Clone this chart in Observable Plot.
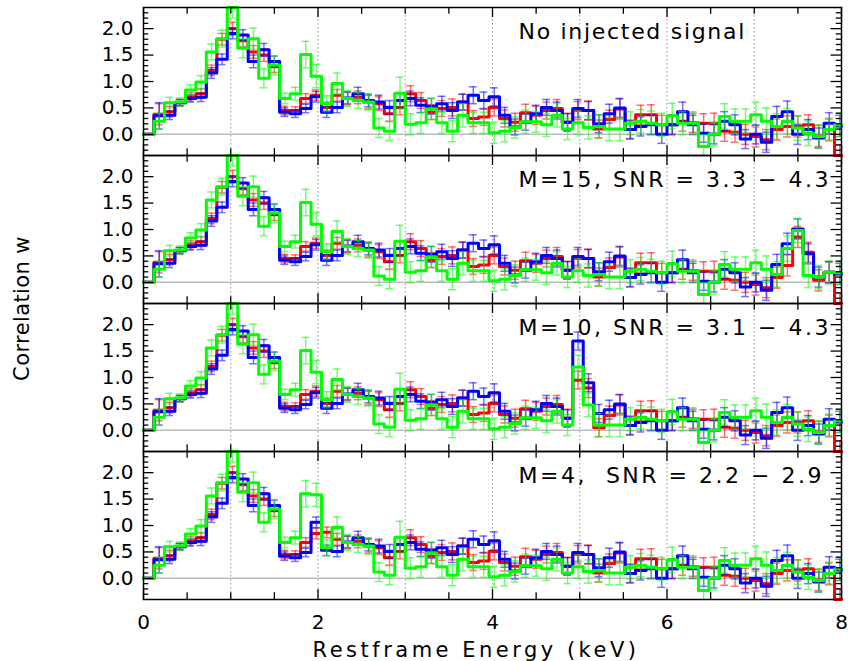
<!DOCTYPE html>
<html><head><meta charset="utf-8">
<script src="https://cdn.jsdelivr.net/npm/d3@7"></script>
<script src="https://cdn.jsdelivr.net/npm/@observablehq/plot@0.6"></script>
<style>
body{margin:0;background:#fff;}
#chart svg{display:block;}
</style>
</head><body><div id="chart"></div>
<script>
// ---- data ----
const panelKeys = ["p1", "p2", "p3", "p4"];
const panelLabels = ["No injected signal", "M=15, SNR = 3.3 \u2212 4.3", "M=10, SNR = 3.1 \u2212 4.3", "M=4,  SNR = 2.2 \u2212 2.9"];
const yTitle = "Correlation w";
const xTitle = "Restframe Energy (keV)";
const binWidth = 0.12; // keV per bin
const xDomain = [0, 8];
const yDomain = [-0.4, 2.4];
const xTickLabels = [0, 2, 4, 6, 8];
const xMinorTicks = [0.5, 1, 1.5, 2.5, 3, 3.5, 4.5, 5, 5.5, 6.5, 7, 7.5];
const gridLines = [1, 2, 3, 4, 5, 6, 7];
const yTickLabels = [0, 0.5, 1, 1.5, 2];
const yMinorTicks = [-0.3, -0.2, -0.1, 0.1, 0.2, 0.3, 0.4, 0.6, 0.7, 0.8, 0.9, 1.1, 1.2, 1.3, 1.4, 1.6, 1.7, 1.8, 1.9, 2.1, 2.2, 2.3];

// "No injected signal" correlation values per bin
const blueValues = [
  0, 0.35, 0.36, 0.60, 0.68, 0.70, 1.16, 1.42, 1.91, 1.88,
  1.38, 1.60, 1.38, 0.42, 0.39, 0.49, 0.71, 0.42, 0.51, 0.69,
  0.77, 0.64, 0.61, 0.51, 0.64, 0.68, 0.55, 0.53, 0.58, 0.45,
  0.61, 0.74, 0.64, 0.71, 0.36, 0.14, 0.23, 0.39, 0.51, 0.45,
  0.23, 0.49, 0.45, 0.20, 0.39, 0.50, 0.09, 0.15, 0.18, 0.00,
  0.18, 0.43, 0.18, 0.02, 0.00, 0.25, 0.18, -0.09, 0.00, -0.15,
  0.34, 0.43, 0.00, 0.09, -0.07, 0.21, 0.16];
const redValues = [
  0, 0.38, 0.43, 0.60, 0.71, 0.77, 1.21, 1.80, 2.00, 1.77,
  1.56, 1.50, 1.28, 0.45, 0.45, 0.68, 0.74, 0.51, 0.74, 0.68,
  0.70, 0.61, 0.58, 0.39, 0.51, 0.77, 0.64, 0.42, 0.49, 0.51,
  0.61, 0.30, 0.33, 0.51, 0.30, 0.23, 0.41, 0.36, 0.45, 0.49,
  0.23, 0.45, 0.45, 0.10, 0.28, 0.48, 0.09, 0.37, 0.37, 0.18,
  0.18, 0.25, 0.22, 0.21, 0.21, 0.06, 0.04, 0.00, -0.04, -0.10,
  0.09, 0.15, 0.15, 0.18, -0.03, 0.09, -0.40];
const greenValues = [
  0, 0.25, 0.60, 0.61, 0.84, 0.99, 1.56, 1.81, 2.40, 1.63,
  1.81, 1.06, 1.31, 0.68, 0.77, 1.51, 1.10, 0.58, 0.96, 0.68,
  0.64, 0.61, 0.12, 0.06, 0.78, 0.19, 0.22, 0.48, 0.22, 0.06,
  0.36, 0.22, 0.22, 0.03, 0.06, 0.13, 0.24, 0.24, 0.18, 0.36,
  0.10, 0.22, 0.13, 0.15, 0.10, 0.10, 0.21, 0.25, 0.21, 0.18,
  0.35, 0.21, 0.21, -0.23, 0.00, 0.34, 0.25, 0.25, 0.37, 0.25,
  0.15, 0.25, 0.12, 0.02, -0.04, 0.09, 0.18];

// 1-sigma errors per bin
const blueErrors = [
  0, 0.25, 0.08, 0.06, 0.07, 0.08, 0.10, 0.10, 0.10, 0.10,
  0.12, 0.12, 0.10, 0.08, 0.07, 0.08, 0.10, 0.10, 0.10, 0.11,
  0.12, 0.12, 0.13, 0.13, 0.14, 0.14, 0.14, 0.15, 0.14, 0.15,
  0.15, 0.16, 0.16, 0.17, 0.15, 0.15, 0.15, 0.16, 0.15, 0.16,
  0.16, 0.17, 0.17, 0.17, 0.18, 0.18, 0.17, 0.18, 0.18, 0.17,
  0.18, 0.18, 0.18, 0.17, 0.18, 0.18, 0.19, 0.18, 0.18, 0.19,
  0.19, 0.20, 0.19, 0.19, 0.19, 0.20, 0.20];
const redErrors = [
  0, 0.20, 0.10, 0.06, 0.08, 0.09, 0.10, 0.11, 0.12, 0.11,
  0.12, 0.12, 0.11, 0.08, 0.07, 0.09, 0.10, 0.10, 0.11, 0.12,
  0.12, 0.13, 0.13, 0.14, 0.14, 0.15, 0.15, 0.14, 0.15, 0.16,
  0.15, 0.15, 0.16, 0.16, 0.16, 0.17, 0.16, 0.17, 0.16, 0.17,
  0.17, 0.17, 0.18, 0.17, 0.18, 0.19, 0.18, 0.18, 0.19, 0.18,
  0.19, 0.19, 0.18, 0.18, 0.19, 0.19, 0.19, 0.19, 0.20, 0.19,
  0.20, 0.20, 0.20, 0.19, 0.20, 0.20, 0.20];
const greenErrors = [
  0, 0.15, 0.10, 0.08, 0.10, 0.12, 0.15, 0.16, 0.20, 0.18,
  0.20, 0.18, 0.18, 0.10, 0.12, 0.25, 0.22, 0.15, 0.20, 0.15,
  0.15, 0.15, 0.18, 0.18, 0.30, 0.20, 0.20, 0.20, 0.20, 0.20,
  0.22, 0.20, 0.20, 0.20, 0.20, 0.20, 0.22, 0.20, 0.22, 0.22,
  0.20, 0.22, 0.22, 0.22, 0.22, 0.22, 0.22, 0.22, 0.23, 0.22,
  0.24, 0.22, 0.22, 0.22, 0.22, 0.24, 0.23, 0.23, 0.24, 0.25,
  0.24, 0.24, 0.23, 0.23, 0.22, 0.22, 0.22];

// injected-signal bins (bin index -> value)
const p2Red = {61: 0.32, 62: 0.86, 63: 0.57, 64: 0.04, 65: 0.19};
const p2Blue = {61: 0.73, 62: 1.01, 63: 0.54, 64: 0.10, 65: 0.19};
const p2Green = {61: 0.64, 62: 0.98, 63: 0.13, 64: 0.10, 65: 0.19};
const p3Red = {41: 0.95, 42: 0.80, 43: 0.05};
const p3Blue = {41: 1.69, 42: 0.90, 43: 0.32};
const p3Green = {41: 1.20, 42: 0.48, 43: 0.10};
const p4Red = {16: 0.85, 17: 0.87};
const p4Blue = {16: 1.06, 17: 0.53};
const p4Green = {15: 1.60, 16: 1.58};

// ---- build tables ----
const seriesDefs = [
  {key: "red", color: "#ff0000", values: redValues, errors: redErrors},
  {key: "blue", color: "#0000ff", values: blueValues, errors: blueErrors},
  {key: "green", color: "#00ff00", values: greenValues, errors: greenErrors}
];
const overrides = {
  p1: {},
  p2: {red: p2Red, blue: p2Blue, green: p2Green},
  p3: {red: p3Red, blue: p3Blue, green: p3Green},
  p4: {red: p4Red, blue: p4Blue, green: p4Green}
};
const lineRows = [], errRows = [], capRows = [];
const capHalf = 0.045;
for (const p of panelKeys) {
  for (const s of seriesDefs) {
    const vals = s.values.slice();
    const ov = overrides[p][s.key] || {};
    for (const k of Object.keys(ov)) vals[+k] = ov[k];
    vals.forEach((v, k) => {
      lineRows.push({panel: p, series: s.key, x: k * binWidth, y: v});
      const e = s.errors[k];
      if (e > 0) {
        const xc = (k + 0.5) * binWidth;
        errRows.push({panel: p, series: s.key, x: xc, lo: v - e, hi: v + e});
        capRows.push({panel: p, series: s.key, x1: xc - capHalf, x2: xc + capHalf, y: v - e});
        capRows.push({panel: p, series: s.key, x1: xc - capHalf, x2: xc + capHalf, y: v + e});
      }
    });
    lineRows.push({panel: p, series: s.key, x: xDomain[1], y: vals[vals.length - 1]});
  }
}
const labelRows = panelKeys.map((p, i) => ({panel: p, text: panelLabels[i]}));

const seriesMarks = seriesDefs.flatMap(s => [
  Plot.ruleX(errRows.filter(d => d.series === s.key), {x: "x", y1: "lo", y2: "hi", fy: "panel", stroke: s.color, strokeOpacity: 0.55, strokeWidth: 1.5, clip: true}),
  Plot.ruleY(capRows.filter(d => d.series === s.key), {x1: "x1", x2: "x2", y: "y", fy: "panel", stroke: s.color, strokeOpacity: 0.55, strokeWidth: 1.5, clip: true}),
  Plot.line(lineRows.filter(d => d.series === s.key), {x: "x", y: "y", fy: "panel", curve: "step-after", stroke: s.color, strokeWidth: 3})
]);

const yTop = () => yDomain[1], yBot = () => yDomain[0];
const chart = Plot.plot({
  width: 848,
  height: 661,
  marginLeft: 143,
  marginRight: 7,
  marginTop: 7,
  marginBottom: 62,
  style: {fontFamily: "DejaVu Sans", fontSize: "20px", background: "white", color: "black", overflow: "visible"},
  x: {domain: xDomain},
  y: {domain: yDomain},
  fy: {domain: panelKeys, padding: 0, axis: null},
  marks: [
    Plot.ruleX(gridLines, {stroke: "#9a9a9a", strokeWidth: 1, strokeDasharray: "1.5,2.5"}),
    Plot.ruleY([0], {stroke: "#bdbdbd", strokeWidth: 1.5}),
    ...seriesMarks,
    Plot.frame({stroke: "black", strokeWidth: 1.5}),
    // inward ticks
    Plot.ruleX(xTickLabels, {y1: yTop, y2: () => yDomain[1] - 0.19, stroke: "black", strokeWidth: 1.3}),
    Plot.ruleX(xMinorTicks, {y1: yTop, y2: () => yDomain[1] - 0.13, stroke: "black", strokeWidth: 1.3}),
    Plot.ruleX(xTickLabels, {y1: yBot, y2: () => yDomain[0] + 0.19, stroke: "black", strokeWidth: 1.3}),
    Plot.ruleX(xMinorTicks, {y1: yBot, y2: () => yDomain[0] + 0.13, stroke: "black", strokeWidth: 1.3}),
    Plot.ruleY(yTickLabels, {x1: () => xDomain[0], x2: () => xDomain[0] + 0.12, stroke: "black", strokeWidth: 1.3}),
    Plot.ruleY(yMinorTicks, {x1: () => xDomain[0], x2: () => xDomain[0] + 0.06, stroke: "black", strokeWidth: 1.3}),
    Plot.ruleY(yTickLabels, {x1: () => xDomain[1], x2: () => xDomain[1] - 0.12, stroke: "black", strokeWidth: 1.3}),
    Plot.ruleY(yMinorTicks, {x1: () => xDomain[1], x2: () => xDomain[1] - 0.06, stroke: "black", strokeWidth: 1.3}),
    Plot.axisY({ticks: yTickLabels, tickSize: 0, tickPadding: 10, tickFormat: d3.format(".1f"), fontSize: 20, label: null}),
    Plot.axisX({ticks: xTickLabels, tickSize: 0, tickPadding: 15, fontSize: 20, label: null}),
    Plot.text(labelRows, {fy: "panel", text: "text", frameAnchor: "top-left", textAnchor: "start", lineAnchor: "middle", dx: 375, dy: 24, fontSize: 22}),
    Plot.text([{panel: "p3", t: yTitle}], {fy: "panel", text: "t", frameAnchor: "top-left", textAnchor: "middle", lineAnchor: "middle", rotate: -90, dx: -121, dy: 5, fontSize: 21}),
    Plot.text([{panel: "p4", t: xTitle}], {fy: "panel", text: "t", frameAnchor: "bottom-left", textAnchor: "start", lineAnchor: "middle", dx: 169, dy: 51, fontSize: 21})
  ]
});
d3.select(chart).selectAll("text").each(function() {
  const t = this.textContent;
  const sel = d3.select(this);
  if (t === panelLabels[0]) sel.style("white-space", "pre").attr("letter-spacing", 1.7);
  else if (panelLabels.includes(t)) sel.style("white-space", "pre").attr("letter-spacing", 2.5);
  else if (t === yTitle) sel.attr("letter-spacing", 0.4);
  else if (t === xTitle) sel.attr("letter-spacing", 3.5);
});
document.getElementById("chart").append(chart);
</script>
</body></html>
